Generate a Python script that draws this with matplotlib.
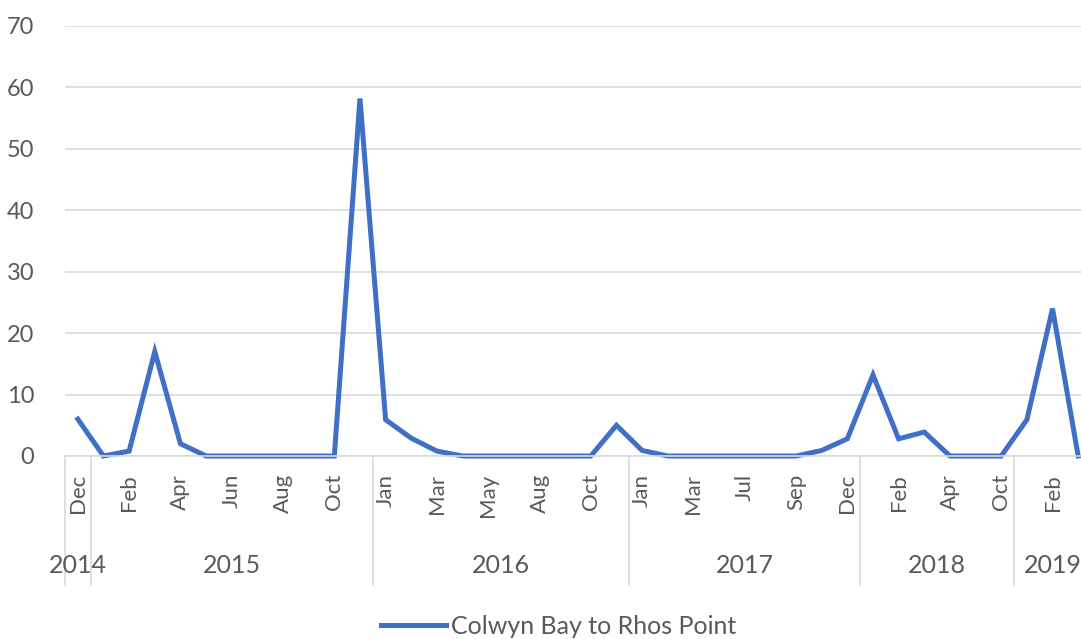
import matplotlib.pyplot as plt
from matplotlib.transforms import blended_transform_factory

plt.rcParams['font.family'] = ['Lato', 'DejaVu Sans']

# months with a reading, grouped by year (labels shown on every other point)
years = ['2014', '2015', '2016', '2017', '2018', '2019']
months = [
    ['Dec'],
    ['Jan', 'Feb', 'Mar', 'Apr', 'May', 'Jun', 'Jul', 'Aug', 'Sep', 'Oct', 'Nov'],
    ['Jan', 'Feb', 'Mar', 'Apr', 'May', 'Jul', 'Aug', 'Sep', 'Oct', 'Nov'],
    ['Jan', 'Feb', 'Mar', 'Jun', 'Jul', 'Aug', 'Sep', 'Nov', 'Dec'],
    ['Jan', 'Feb', 'Mar', 'Apr', 'Jun', 'Oct'],
    ['Jan', 'Feb', 'Mar'],
]
values = [6,
          0, 0.8, 17, 2, 0, 0, 0, 0, 0, 0, 58.2,
          5.9, 2.9, 0.8, 0, 0, 0, 0, 0, 0, 5,
          0.9, 0, 0, 0, 0, 0, 0, 0.9, 2.8,
          13.2, 2.8, 3.9, 0, 0, 0,
          5.9, 24, 0]
series_name = 'Colwyn Bay to Rhos Point'

grey = '#595959'
blue = '#3F6FC6'

labels = [m for grp in months for m in grp]
x = list(range(len(values)))

fig = plt.figure(figsize=(10.81, 6.39), dpi=100)
ax = fig.add_axes([65 / 1081, 183 / 639, 1026 / 1081, 430 / 639])

line, = ax.plot(x, values, color=blue, lw=3.6, solid_joinstyle='miter',
                label=series_name, clip_on=False)

ax.set_xlim(-0.5, len(values) - 0.5)
ax.set_ylim(0, 70)
ax.set_yticks(range(0, 71, 10))
ax.yaxis.grid(True, color='#D9D9D9', lw=1.2)
ax.set_axisbelow(True)
for s in ['top', 'right', 'left']:
    ax.spines[s].set_visible(False)
ax.spines['bottom'].set_color('#D9D9D9')
ax.spines['bottom'].set_linewidth(1.2)
ax.tick_params(axis='y', length=0, labelsize=17, labelcolor=grey, pad=22)

ax.set_xticks(x[::2])
ax.set_xticklabels(labels[::2], rotation=90, va='top', ha='center')
ax.tick_params(axis='x', length=0, labelsize=16, labelcolor=grey, pad=13)

# year level of the category axis
trans = blended_transform_factory(ax.transData, ax.transAxes)
start = 0
edges = [-0.5]
for yr, grp in zip(years, months):
    end = start + len(grp)
    edges.append(end - 0.5)
    ax.text((start + end - 1) / 2, -0.255, yr, transform=trans, ha='center',
            va='center', fontsize=18, color=grey)
    start = end
for e in edges[:-1]:
    ax.plot([e, e], [0, -0.3], transform=trans, color='#D9D9D9', lw=1.2,
            clip_on=False)

fig.legend(handles=[line], loc='center', bbox_to_anchor=(0.517, 0.02),
           frameon=False, fontsize=18, handlelength=2.6, handletextpad=0.2,
           labelcolor=grey)

fig.savefig('out.png', dpi=100)
